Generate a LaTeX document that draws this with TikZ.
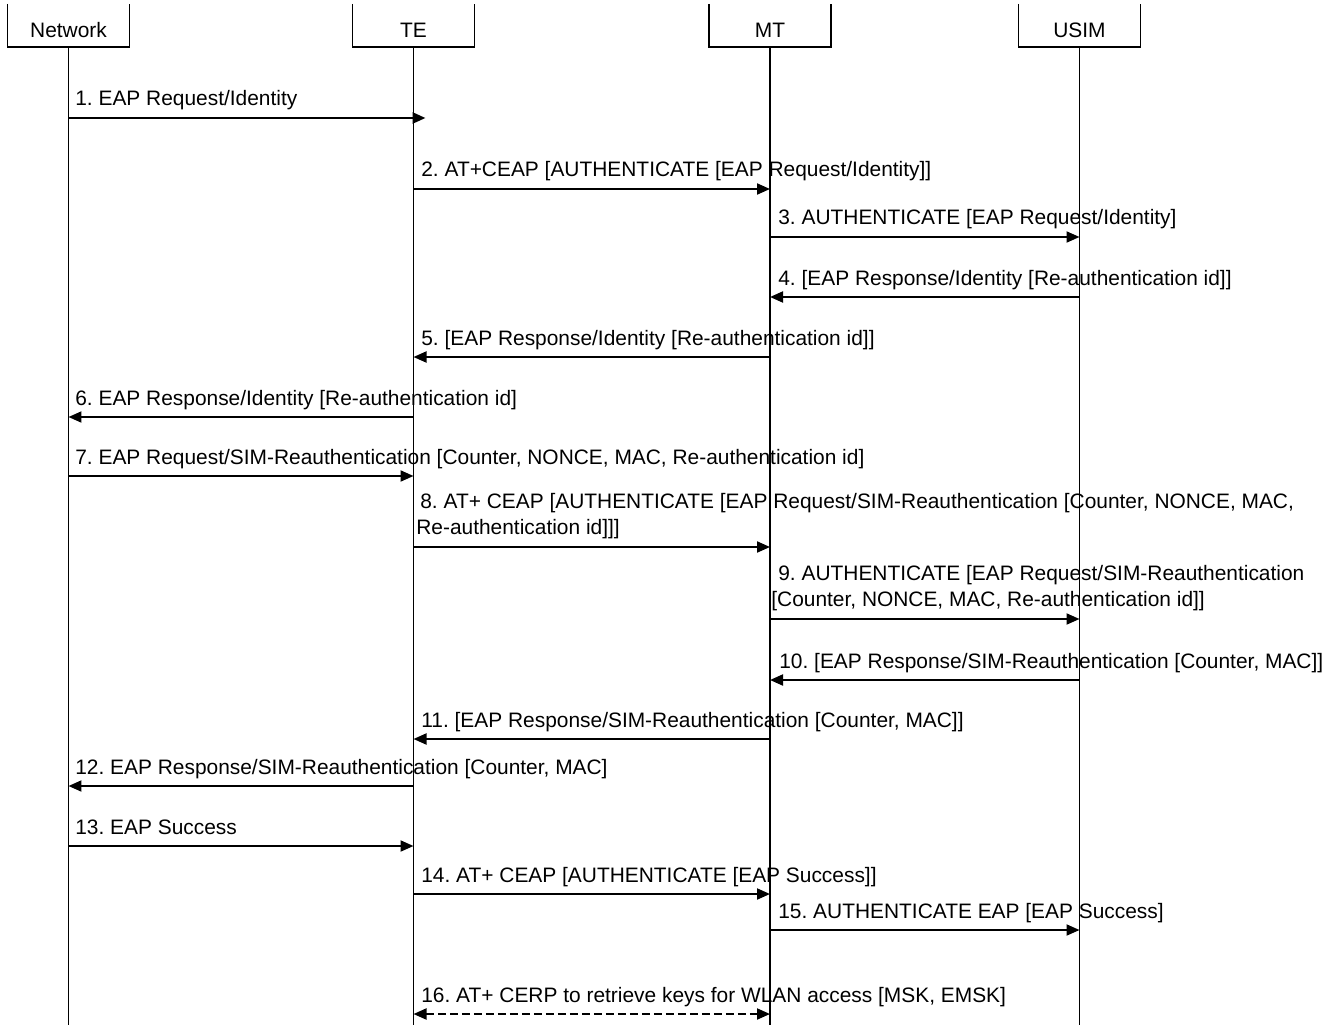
\documentclass[tikz,border=0pt]{standalone}
\usepackage{fontspec}
\setmainfont{Liberation Sans}
\frenchspacing
\usetikzlibrary{arrows.meta, calc}

\begin{document}
\begin{tikzpicture}[x=0.02cm, y=-0.02cm,
    party/.style={anchor=south, inner sep=0pt,
      minimum width=2.42cm, text height=0.5cm, text depth=0.18cm,
      font=\fontsize{11.9}{14.8}\selectfont},
    boxline/.style={line width=0.03cm},
    life/.style={line width=0.03cm},
    msg/.style={line width=0.04cm, -{Triangle[length=0.26cm, width=0.22cm]}},
    both/.style={line width=0.04cm, dash pattern=on 0.16cm off 0.08cm,
      {Triangle[length=0.26cm, width=0.22cm]}-{Triangle[length=0.26cm, width=0.22cm]}},
    lbl/.style={anchor=base west, inner sep=0pt, font=\fontsize{11.9}{14.8}\selectfont}]
  \useasboundingbox (0,0) rectangle (1337,1030);

  % parties and lifelines
  \node[party] (net)  at (68.5,47)  {Network};
  \node[party] (te)   at (413.5,47) {TE};
  \node[party] (mt)   at (770,47)   {MT};
  \node[party] (usim) at (1079.5,47) {USIM};
  \foreach \p in {net, te, mt, usim} {
    \draw[boxline] ($(\p.south west)+(0,-43)$) -- (\p.south west) -- (\p.south east) -- ++(0,-43);
    \draw[life] (\p.south) -- (\p |- 0,1025);
  }

  % messages
  \draw[msg, line width=0.05cm] (net |- 0,118) -- ($(te |- 0,118)+(12,0)$);
  \node[lbl] (l1) at (75,106) {1. EAP Request/Identity};

  \draw[msg] (te |- 0,189) -- (mt |- 0,189);
  \node[lbl] (l2) at (421,177) {2. AT+CEAP [AUTHENTICATE [EAP Request/Identity]]};

  \draw[msg] (mt |- 0,237) -- (usim |- 0,237);
  \node[lbl] (l3) at (778,225) {3. AUTHENTICATE [EAP Request/Identity]};

  \draw[msg] (usim |- 0,297) -- (mt |- 0,297);
  \node[lbl] (l4) at (778,285) {4. [EAP Response/Identity [Re-authentication id]]};

  \draw[msg] (mt |- 0,357) -- (te |- 0,357);
  \node[lbl] (l5) at (421,345) {5. [EAP Response/Identity [Re-authentication id]]};

  \draw[msg] (te |- 0,417) -- (net |- 0,417);
  \node[lbl] (l6) at (75,405) {6. EAP Response/Identity [Re-authentication id]};

  \draw[msg] (net |- 0,476) -- (te |- 0,476);
  \node[lbl] (l7) at (75,464) {7. EAP Request/SIM-Reauthentication [Counter, NONCE, MAC, Re-authentication id]};

  \draw[msg] (te |- 0,547) -- (mt |- 0,547);
  \node[lbl] (l8) at (416,534) {\begin{tabular}[b]{@{}l@{}}\hspace*{0.08cm}8. AT+ CEAP [AUTHENTICATE [EAP Request/SIM-Reauthentication [Counter, NONCE, MAC,\\Re-authentication id]]]\end{tabular}};

  \draw[msg] (mt |- 0,619) -- (usim |- 0,619);
  \node[lbl] (l9) at (771,606) {\begin{tabular}[b]{@{}l@{}}\hspace*{0.14cm}9. AUTHENTICATE [EAP Request/SIM-Reauthentication\\{[}Counter, NONCE, MAC, Re-authentication id]]\end{tabular}};

  \draw[msg] (usim |- 0,680) -- (mt |- 0,680);
  \node[lbl] (l10) at (779,668) {10. [EAP Response/SIM-Reauthentication [Counter, MAC]]};

  \draw[msg] (mt |- 0,739) -- (te |- 0,739);
  \node[lbl] (l11) at (421,727) {11. [EAP Response/SIM-Reauthentication [Counter, MAC]]};

  \draw[msg] (te |- 0,786) -- (net |- 0,786);
  \node[lbl] (l12) at (75,774) {12. EAP Response/SIM-Reauthentication [Counter, MAC]};

  \draw[msg] (net |- 0,846) -- (te |- 0,846);
  \node[lbl] (l13) at (75,834) {13. EAP Success};

  \draw[msg] (te |- 0,894) -- (mt |- 0,894);
  \node[lbl] (l14) at (421,882) {14. AT+ CEAP [AUTHENTICATE [EAP Success]]};

  \draw[msg] (mt |- 0,930) -- (usim |- 0,930);
  \node[lbl] (l15) at (778,918) {15. AUTHENTICATE EAP [EAP Success]};

  \draw[both] (te |- 0,1014) -- (mt |- 0,1014);
  \node[lbl] (l16) at (421,1002) {16. AT+ CERP to retrieve keys for WLAN access [MSK, EMSK]};
\end{tikzpicture}
\end{document}
